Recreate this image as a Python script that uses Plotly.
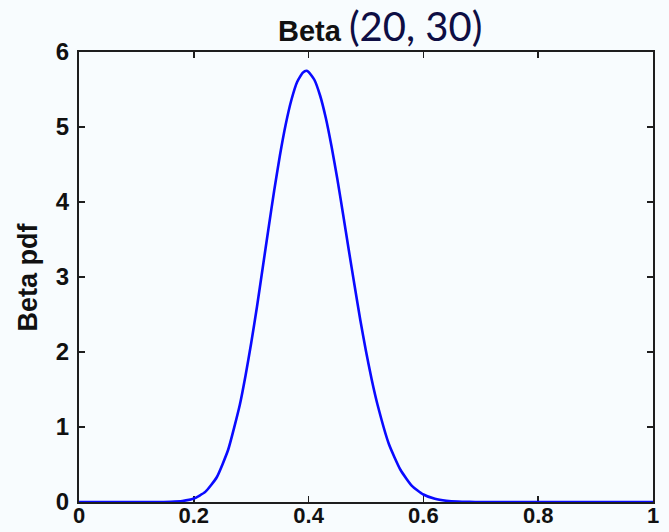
import plotly.graph_objects as go

# Values
x_vals = [0.00, 0.04, 0.08, 0.12, 0.14, 0.16, 0.18,
          0.20, 0.22, 0.24, 0.26, 0.28, 0.29, 0.30, 0.31, 0.32, 0.33, 0.34,
          0.35, 0.36, 0.37, 0.38, 0.39, 0.396, 0.40, 0.41, 0.42, 0.43, 0.44,
          0.45, 0.46, 0.47, 0.48, 0.49, 0.50, 0.51, 0.52, 0.54, 0.56, 0.58,
          0.60, 0.62, 0.64, 0.66, 0.68, 0.70, 0.75, 0.80, 0.85, 0.90,
          0.95, 1.00]
pdf_vals = [0, 0, 0, 0, 0.0005, 0.003, 0.013,
            0.046, 0.135, 0.33, 0.70, 1.29, 1.68, 2.12, 2.60, 3.12, 3.64, 4.15,
            4.62, 5.03, 5.36, 5.60, 5.725, 5.75, 5.735, 5.63, 5.42, 5.12, 4.74,
            4.31, 3.84, 3.36, 2.89, 2.43, 2.01, 1.63, 1.30, 0.77, 0.43, 0.215,
            0.10, 0.042, 0.016, 0.005, 0.0015, 0, 0, 0, 0, 0,
            0, 0]

x_ticks = [0, 0.2, 0.4, 0.6, 0.8, 1]
x_tick_text = ["0", "0.2", "0.4", "0.6", "0.8", "1"]
y_ticks = [0, 1, 2, 3, 4, 5, 6]
y_tick_text = ["0", "1", "2", "3", "4", "5", "6"]

title_main = "Beta"
title_params = "(20, 30)"
y_title = "Beta pdf"

W, H = 669, 532
ml, mr, mt, mb = 79, 16, 52, 30
pw, ph = W - ml - mr, H - mt - mb

bg = "#F8FCFE"
axis_col = "#1e1e1e"
tick_font = dict(family="Liberation Sans, Arial, sans-serif", size=24,
                 color="#111111", weight="bold")
xtick_font = dict(tick_font, size=22)

fig = go.Figure()
fig.add_trace(go.Scatter(
    x=x_vals, y=pdf_vals, mode="lines",
    line=dict(color="#0a0aff", width=2.6, shape="spline", smoothing=0.5),
    showlegend=False, hoverinfo="skip",
))

axis_common = dict(
    showgrid=False, zeroline=False, showline=True, linecolor=axis_col,
    linewidth=2, mirror="ticks", ticks="inside", ticklen=6, tickwidth=1.5,
    tickcolor=axis_col, layer="below traces", automargin=False,
)

fig.update_layout(
    width=W, height=H,
    margin=dict(l=ml, r=mr, t=mt, b=mb, pad=0, autoexpand=False),
    paper_bgcolor=bg, plot_bgcolor=bg,
    xaxis=dict(range=[0, 1], tickmode="array", tickvals=x_ticks,
               ticktext=x_tick_text, ticklabelstandoff=-7,
               tickfont=xtick_font, **axis_common),
    yaxis=dict(range=[0, 6], tickmode="array", tickvals=y_ticks,
               ticktext=y_tick_text, ticklabelstandoff=3,
               tickfont=tick_font, **axis_common),
    annotations=[
        dict(
            text=("<b>" + title_main + "</b> "
                  "<span style='font-family:Lato, Open Sans, sans-serif;"
                  "font-size:40px;color:#0e0e44'>" + title_params + "</span>"),
            xref="paper", yref="paper",
            x=(276 - ml) / pw, y=1 + (mt - 26) / ph,
            xanchor="left", yanchor="middle", showarrow=False,
            font=dict(family="Liberation Sans, Arial, sans-serif", size=29,
                      color="#111111"),
        ),
        dict(
            text="<b>" + y_title + "</b>",
            xref="paper", yref="paper",
            x=(27.5 - ml) / pw, y=0.5, textangle=-90,
            xanchor="center", yanchor="middle", showarrow=False,
            font=dict(family="Liberation Sans, Arial, sans-serif", size=27,
                      color="#111111"),
        ),
    ],
)

fig.write_html(
    "out.html",
    config={"displayModeBar": False, "staticPlot": True},
    post_script="document.body.style.margin='0';document.body.style.overflow='hidden';",
)
